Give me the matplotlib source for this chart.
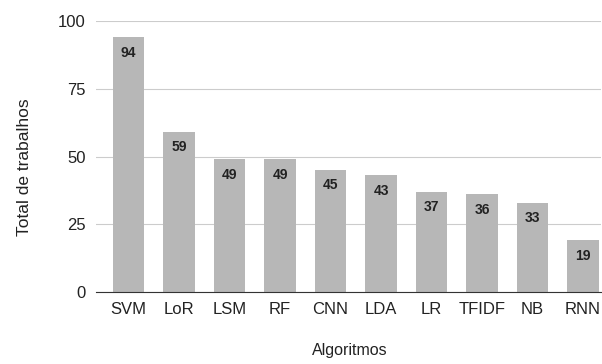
import matplotlib.pyplot as plt

plt.rcParams['font.family'] = ['Liberation Sans', 'DejaVu Sans']

algoritmos = ['SVM', 'LoR', 'LSM', 'RF', 'CNN', 'LDA', 'LR', 'TFIDF', 'NB', 'RNN']
trabalhos = [94, 59, 49, 49, 45, 43, 37, 36, 33, 19]
yticks = [0, 25, 50, 75, 100]

fig = plt.figure(figsize=(6.02, 3.64), dpi=100)
ax = fig.add_axes([0.159, 0.198, 0.839, 0.744])

bars = ax.bar(algoritmos, trabalhos, width=0.62, color='#b7b7b7', zorder=2)

# value labels just inside the top of each bar
for rect, v in zip(bars, trabalhos):
    ax.annotate(f'{v}', xy=(rect.get_x() + rect.get_width() / 2, v),
                xytext=(0, -11), textcoords='offset points',
                ha='center', va='center', fontsize=10, fontweight='bold',
                color='#222222')

ax.set_ylim(0, 100)
ax.set_xlim(-0.65, 9.35)
ax.set_yticks(yticks)
ax.grid(axis='y', color='#cccccc', linewidth=0.8, zorder=0)
for s in ['top', 'right', 'left']:
    ax.spines[s].set_visible(False)
ax.spines['bottom'].set_color('#333333')
ax.spines['bottom'].set_zorder(3)
ax.tick_params(axis='both', length=0, labelsize=12, colors='#222222')
ax.tick_params(axis='x', pad=7)
ax.tick_params(axis='y', pad=7)

ax.set_ylabel('Total de trabalhos', fontsize=12.5, color='#222222', labelpad=19)
ax.set_xlabel('Algoritmos', fontsize=11.5, color='#222222', labelpad=19)
ax.yaxis.label.set_y(0.46)
ax.xaxis.label.set_x(0.503)

fig.savefig('out.png', dpi=100)
